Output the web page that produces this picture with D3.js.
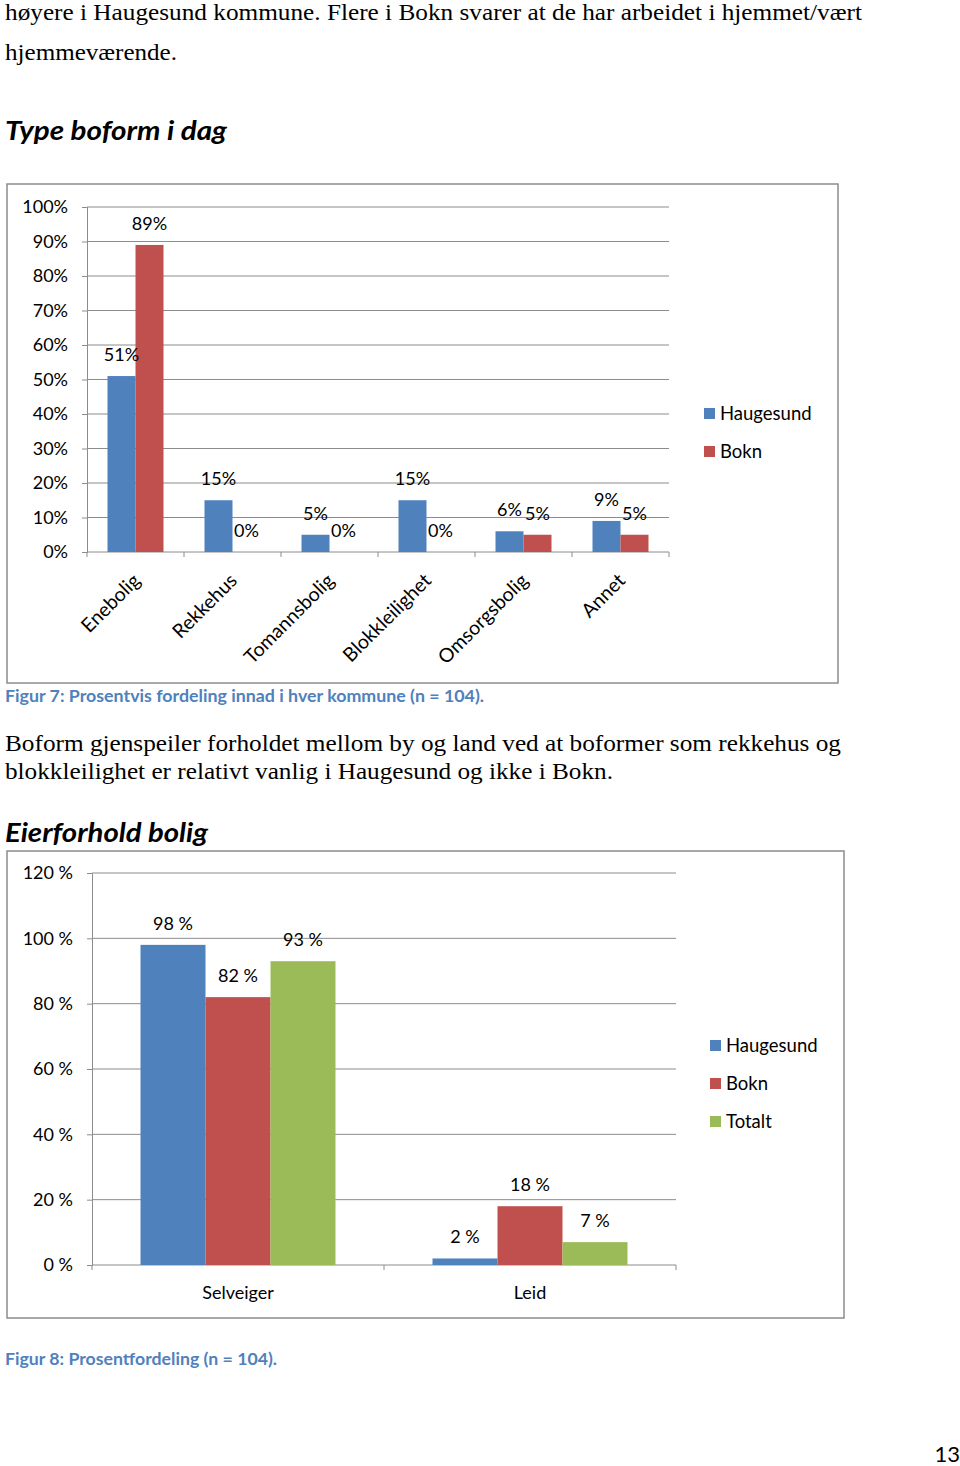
<!DOCTYPE html>
<html>
<head>
<meta charset="utf-8">
<script src="https://cdn.jsdelivr.net/npm/d3@7"></script>
<style>
  html, body { margin: 0; padding: 0; background: #fff; }
  svg { display: block; }
</style>
</head>
<body>
<svg id="page" width="960" height="1466"></svg>
<script>
// ---------- DATA ----------
const boformCategories = ["Enebolig", "Rekkehus", "Tomannsbolig", "Blokkleilighet", "Omsorgsbolig", "Annet"];
const boformSeries = ["Haugesund", "Bokn"];
const boformHaugesund = [51, 15, 5, 15, 6, 9];
const boformBokn = [89, 0, 0, 0, 5, 5];
const boformTicks = [0, 10, 20, 30, 40, 50, 60, 70, 80, 90, 100];

const eierCategories = ["Selveiger", "Leid"];
const eierSeries = ["Haugesund", "Bokn", "Totalt"];
const eierHaugesund = [98, 2];
const eierBokn = [82, 18];
const eierTotalt = [93, 7];
const eierTicks = [0, 20, 40, 60, 80, 100, 120];

const colors = { Haugesund: "#4F81BD", Bokn: "#C0504D", Totalt: "#9BBB59" };

// ---------- PAGE ----------
const svg = d3.select("#page");
const SERIF = "'Liberation Serif', 'Times New Roman', serif";
const SANS = "Lato, 'Open Sans', sans-serif";
const GRID = "#8c8c8c";

function txt(x, y, s, opts) {
  const t = svg.append("text").attr("x", x).attr("y", y).text(s)
    .attr("font-family", opts.family || SANS)
    .attr("font-size", opts.size)
    .attr("fill", opts.fill || "#000");
  if (opts.weight) t.attr("font-weight", opts.weight);
  if (opts.style) t.attr("font-style", opts.style);
  if (opts.len) t.attr("textLength", opts.len).attr("lengthAdjust", "spacingAndGlyphs");
  if (opts.anchor) t.attr("text-anchor", opts.anchor);
  return t;
}

txt(5, 20, "høyere i Haugesund kommune. Flere i Bokn svarer at de har arbeidet i hjemmet/vært", {family: SERIF, size: 23, len: 857});
txt(5, 60, "hjemmeværende.", {family: SERIF, size: 24, len: 172});
txt(5, 140, "Type boform i dag", {size: 27, weight: "bold", style: "italic", len: 222});
txt(5, 702, "Figur 7: Prosentvis fordeling innad i hver kommune (n = 104).", {size: 17, weight: "bold", fill: "#4F81BD", len: 479});
txt(5, 751, "Boform gjenspeiler forholdet mellom by og land ved at boformer som rekkehus og", {family: SERIF, size: 24, len: 836});
txt(5, 779, "blokkleilighet er relativt vanlig i Haugesund og ikke i Bokn.", {family: SERIF, size: 24, len: 608});
txt(5, 842, "Eierforhold bolig", {size: 27, weight: "bold", style: "italic", len: 203});
txt(5, 1365, "Figur 8: Prosentfordeling (n = 104).", {size: 17, weight: "bold", fill: "#4F81BD", len: 272});
txt(960, 1462, "13", {size: 22, anchor: "end"});

// ---------- GENERIC GROUPED BAR CHART ----------
function groupedChart(cfg) {
  const g = svg.append("g");
  // frame
  g.append("rect").attr("x", cfg.frame[0]).attr("y", cfg.frame[1])
    .attr("width", cfg.frame[2] - cfg.frame[0]).attr("height", cfg.frame[3] - cfg.frame[1])
    .attr("fill", "#fff").attr("stroke", GRID).attr("stroke-width", 1.5);

  const y = d3.scaleLinear().domain([cfg.ticks[0], cfg.ticks[cfg.ticks.length - 1]]).range([cfg.y0, cfg.y1]);
  const x0 = d3.scaleBand().domain(cfg.categories).range([cfg.x0, cfg.x1]).padding(0);
  const gw = x0.bandwidth() * cfg.groupRatio;
  const x1 = d3.scaleBand().domain(cfg.series)
    .range([(x0.bandwidth() - gw) / 2, (x0.bandwidth() + gw) / 2]).padding(0);

  // gridlines
  g.append("g").selectAll("line").data(cfg.ticks.filter(t => t !== cfg.ticks[0])).join("line")
    .attr("x1", cfg.x0).attr("x2", cfg.x1)
    .attr("y1", d => y(d)).attr("y2", d => y(d))
    .attr("stroke", GRID).attr("stroke-width", 1);

  // y axis
  const yAxis = d3.axisLeft(y).tickValues(cfg.ticks).tickSize(5).tickPadding(cfg.tickPad)
    .tickFormat(cfg.fmt);
  const ya = g.append("g").attr("transform", `translate(${cfg.x0},0)`).call(yAxis);
  ya.select(".domain").attr("stroke", GRID);
  ya.selectAll(".tick line").attr("stroke", GRID);
  ya.selectAll(".tick text").attr("font-family", SANS).attr("font-size", 18).attr("fill", "#000");

  // x axis baseline with boundary ticks
  const xa = g.append("g");
  xa.append("line").attr("x1", cfg.x0).attr("x2", cfg.x1).attr("y1", cfg.y0).attr("y2", cfg.y0).attr("stroke", GRID);
  const bounds = cfg.categories.map(c => x0(c)).concat([cfg.x1]);
  xa.selectAll("line.b").data(bounds).join("line").attr("class", "b")
    .attr("x1", d => d).attr("x2", d => d).attr("y1", cfg.y0).attr("y2", cfg.y0 + 5).attr("stroke", GRID);

  // bars
  const rows = [];
  cfg.categories.forEach((c, i) => cfg.series.forEach(s => rows.push({c, s, v: cfg.values[s][i]})));
  g.append("g").selectAll("rect").data(rows).join("rect")
    .attr("x", d => x0(d.c) + x1(d.s))
    .attr("width", x1.bandwidth())
    .attr("y", d => y(d.v))
    .attr("height", d => y(0) - y(d.v))
    .attr("fill", d => colors[d.s]);

  // data labels
  g.append("g").selectAll("text").data(rows).join("text")
    .attr("x", d => x0(d.c) + x1(d.s) + x1.bandwidth() / 2)
    .attr("y", d => y(d.v) - cfg.labelGap)
    .attr("text-anchor", "middle")
    .attr("font-family", SANS).attr("font-size", 18).attr("fill", "#000")
    .text(d => cfg.labelFmt(d.v));

  // category labels
  const cl = g.append("g").selectAll("text").data(cfg.categories).join("text")
    .attr("font-family", SANS).attr("fill", "#000")
    .text(d => d);
  if (cfg.rotate) {
    cl.attr("font-size", 19.5).attr("text-anchor", "end").attr("dy", "0.35em")
      .attr("transform", d => `translate(${x0(d) + x0.bandwidth() / 2 + 1},${cfg.y0 + 25}) rotate(-45)`);
  } else {
    cl.attr("font-size", 18).attr("text-anchor", "middle").attr("x", d => x0(d) + x0.bandwidth() / 2).attr("y", cfg.y0 + 34);
  }

  // legend
  const lg = g.append("g").selectAll("g").data(cfg.series).join("g")
    .attr("transform", (d, i) => `translate(${cfg.legend[0]},${cfg.legend[1] + i * 38})`);
  lg.append("rect").attr("x", 0).attr("y", -6).attr("width", 11).attr("height", 11).attr("fill", d => colors[d]);
  lg.append("text").attr("x", 16).attr("y", 0).attr("dy", "0.35em")
    .attr("font-family", SANS).attr("font-size", 18.5).attr("fill", "#000").text(d => d);
}

groupedChart({
  frame: [7, 184, 838, 683],
  categories: boformCategories,
  series: boformSeries,
  values: { Haugesund: boformHaugesund, Bokn: boformBokn },
  ticks: boformTicks,
  x0: 87, x1: 669, y0: 552, y1: 207,
  groupRatio: 56 / 97,
  tickPad: 14,
  fmt: d => d + "%",
  labelFmt: v => v + "%",
  labelGap: 15,
  rotate: true,
  legend: [704, 414]
});

groupedChart({
  frame: [7, 851, 844, 1318],
  categories: eierCategories,
  series: eierSeries,
  values: { Haugesund: eierHaugesund, Bokn: eierBokn, Totalt: eierTotalt },
  ticks: eierTicks,
  x0: 92, x1: 676, y0: 1265, y1: 873,
  groupRatio: 195 / 292,
  tickPad: 14,
  fmt: d => d + " %",
  labelFmt: v => v + " %",
  labelGap: 15,
  rotate: false,
  legend: [710, 1046]
});
</script>
</body>
</html>
